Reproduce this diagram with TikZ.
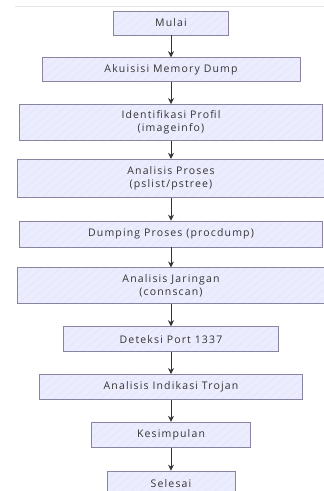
\documentclass[tikz,border=0pt]{standalone}
\usepackage{fontspec}
\setmainfont{Open Sans}[LetterSpace=11]
\usetikzlibrary{arrows.meta,positioning,patterns.meta}
\definecolor{fcfill}{RGB}{236,236,255}
\definecolor{fchatch}{RGB}{228,228,248}
\definecolor{fcborder}{RGB}{138,132,160}
\definecolor{fctext}{RGB}{51,51,51}
\tikzstyle{stepbox} = [rectangle, draw=fcborder, thick, preaction={fill=fcfill}, pattern={Lines[angle=40,distance=6pt,line width=0.5pt]}, pattern color=fchatch, minimum height=24pt, text=fctext, font=\fontsize{10.5}{13}\selectfont, align=center]
\tikzstyle{arrow} = [thick,-{Stealth[length=6pt,width=6pt]},color=fctext]

\begin{document}
\begin{tikzpicture}[node distance=22pt]
\useasboundingbox (0,0) rectangle (324pt,-491pt);
\draw[gray!20] (15pt,-6pt) -- (324pt,-6pt);

% Steps
\node[stepbox, minimum width=115pt] (mulai) at (171pt,-23pt) {Mulai};
\node[stepbox, minimum width=258pt, below=of mulai] (akuisisi) {Akuisisi Memory Dump};
\node[stepbox, minimum width=303pt, minimum height=36pt, below=of akuisisi] (profil) {Identifikasi Profil\\(imageinfo)};
\node[stepbox, minimum width=308pt, minimum height=38pt, below=18pt of profil] (proses) {Analisis Proses\\(pslist/pstree)};
\node[stepbox, minimum width=303pt, minimum height=26pt, below=23pt of proses] (dumping) {Dumping Proses (procdump)};
\node[stepbox, minimum width=308pt, minimum height=36pt, below=20pt of dumping] (jaringan) {Analisis Jaringan\\(connscan)};
\node[stepbox, minimum width=215pt, minimum height=25pt, below=of jaringan] (port) {Deteksi Port 1337};
\node[stepbox, minimum width=263pt, minimum height=25pt, below=of port] (trojan) {Analisis Indikasi Trojan};
\node[stepbox, minimum width=159pt, minimum height=25pt, below=of trojan] (kesimpulan) {Kesimpulan};
\node[stepbox, minimum width=128pt, minimum height=26pt, below=23pt of kesimpulan] (selesai) {Selesai};

% Arrows
\draw[arrow] (mulai) -- (akuisisi);
\draw[arrow] (akuisisi) -- (profil);
\draw[arrow] (profil) -- (proses);
\draw[arrow] (proses) -- (dumping);
\draw[arrow] (dumping) -- (jaringan);
\draw[arrow] (jaringan) -- (port);
\draw[arrow] (port) -- (trojan);
\draw[arrow] (trojan) -- (kesimpulan);
\draw[arrow] (kesimpulan) -- (selesai);
\end{tikzpicture}
\end{document}
